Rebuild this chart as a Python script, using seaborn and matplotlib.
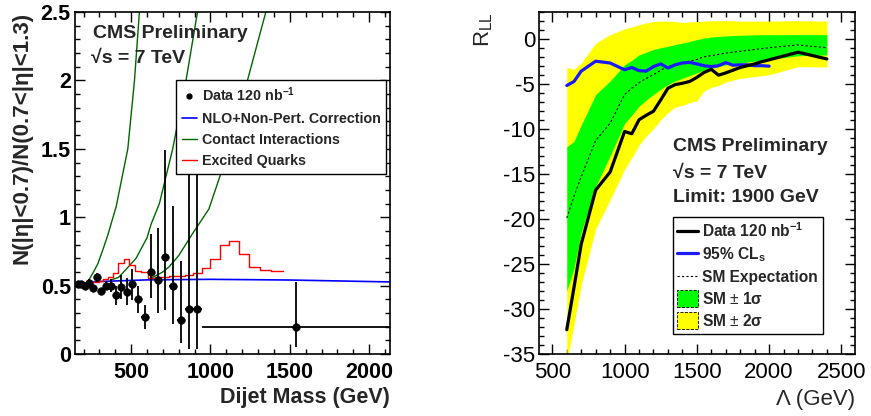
import numpy as np
import seaborn as sns
import matplotlib
matplotlib.use("Agg")
import matplotlib.pyplot as plt
from matplotlib.lines import Line2D
from matplotlib.patches import Patch
from matplotlib.ticker import MultipleLocator

# ---- left panel: dijet centrality ratio ----
bin_edges = [156, 176, 197, 220, 244, 270, 296, 325, 354, 386, 419, 453, 489,
             526, 565, 606, 649, 693, 740, 788, 838, 890, 944, 2132]
ratio = [0.51, 0.51, 0.50, 0.52, 0.48, 0.56, 0.46, 0.50, 0.50, 0.43, 0.49, 0.455,
         0.51, 0.40, 0.27, 0.60, 0.54, 0.71, 0.50, 0.25, 0.33, 0.33, 0.20]
err_up = [0.015, 0.015, 0.015, 0.03, 0.02, 0.03, 0.025, 0.035, 0.045, 0.07, 0.085, 0.10,
          0.115, 0.10, 0.09, 0.28, 0.38, 0.78, 0.58, 0.43, 1.3, 1.5, 0.33]
err_dn = [0.015, 0.015, 0.015, 0.03, 0.02, 0.03, 0.025, 0.035, 0.045, 0.07, 0.085, 0.10,
          0.115, 0.10, 0.09, 0.19, 0.24, 0.39, 0.28, 0.17, 0.29, 0.29, 0.15]

nlo_mass = [156, 300, 600, 1000, 1500, 2132]
nlo_ratio = [0.513, 0.53, 0.542, 0.546, 0.541, 0.527]

ci1_mass = [200, 227, 258, 290, 321, 353, 406, 479, 521, 552]
ci1_ratio = [0.51, 0.53, 0.59, 0.66, 0.76, 0.87, 1.08, 1.5, 2.0, 2.5]
ci2_mass = [370, 420, 469, 531, 600, 626, 678, 762, 846, 918]
ci2_ratio = [0.54, 0.56, 0.62, 0.70, 0.85, 0.95, 1.1, 1.5, 2.0, 2.5]
ci3_mass = [620, 700, 741, 800, 887, 990, 1118, 1233, 1349]
ci3_ratio = [0.55, 0.60, 0.64, 0.72, 0.88, 1.06, 1.5, 2.0, 2.5]

exq_edges = [244, 270, 296, 325, 354, 386, 419, 453, 489, 526, 565, 606, 649, 693,
             740, 788, 838, 890, 944, 1000, 1058, 1118, 1181, 1246, 1313, 1383, 1455]
exq_ratio = [0.525, 0.530, 0.535, 0.548, 0.560, 0.595, 0.663, 0.692, 0.651, 0.609,
             0.597, 0.558, 0.560, 0.563, 0.567, 0.572, 0.580, 0.592, 0.626, 0.692,
             0.797, 0.826, 0.729, 0.634, 0.612, 0.604]

# ---- right panel: R_LL vs Lambda ----
lam = [600, 650, 700, 800, 900, 1000, 1050, 1100, 1150, 1200, 1250, 1300, 1350, 1400,
       1450, 1500, 1550, 1600, 1650, 1700, 1750, 1800, 1850, 1900, 1950, 2000, 2200, 2400]
data_rll = [-32.3, -27.6, -22.8, -16.8, -14.8, -10.3, -10.55, -9.0, -8.5, -8.05, -6.8,
            -5.5, -5.1, -4.95, -4.75, -4.3, -3.75, -3.4, -4.05, -3.8, -3.5, -3.2, -3.0,
            -2.8, -2.55, -2.35, -1.5, -2.25]
cls_rll = [-5.2, -4.75, -3.6, -2.5, -2.7, -3.45, -3.2, -3.55, -3.6, -3.1, -2.8, -3.26,
           -2.9, -2.7, -2.63, -2.8, -3.0, -3.1, -3.0, -2.65, -2.95, -2.9, -2.9, -3.0,
           -3.0, -3.05]
sm_exp = [-19.9, -17.5, -15.3, -11.3, -9.4, -6.2, -5.5, -4.9, -4.4, -4.0, -3.5, -3.1,
          -2.9, -2.7, -2.5, -2.3, -2.0, -1.9, -1.75, -1.6, -1.5, -1.4, -1.3, -1.2, -1.1,
          -1.0, -0.7, -1.0]
green_hi = [-12.0, -11.4, -9.6, -6.2, -4.7, -2.9, -2.4, -1.8, -1.5, -1.2, -1.0, -0.85,
            -0.65, -0.5, -0.3, -0.1, 0.05, 0.19, 0.25, 0.3, 0.35, 0.37, 0.4, 0.42, 0.44,
            0.44, 0.45, 0.45]
green_lo = [-28.0, -25.5, -21.5, -16.4, -13.0, -9.4, -8.5, -7.5, -6.8, -6.2, -5.6, -5.1,
            -4.7, -4.4, -4.1, -3.8, -3.5, -3.3, -3.1, -2.9, -2.8, -2.7, -2.6, -2.5, -2.4,
            -2.3, -1.9, -1.8]
yellow_hi = [-3.2, -3.4, -2.7, -0.5, 0.44, 1.1, 1.3, 1.55, 1.75, 1.9, 1.95, 1.95, 1.9,
             1.8, 1.85, 1.9, 1.95, 2.0, 2.0, 2.0, 2.0, 1.95, 1.95, 1.95, 1.95, 1.95, 2.0, 1.95]
yellow_lo = [-36.0, -31.7, -27.3, -21.1, -17.9, -14.5, -13.2, -11.8, -10.8, -10.0, -9.0,
             -8.2, -7.6, -7.4, -7.1, -6.9, -5.8, -5.4, -5.2, -4.8, -4.6, -4.4, -4.3, -4.2,
             -4.1, -4.0, -3.1, -3.15]

sns.set_theme(style="ticks")
plt.rcParams['font.family'] = ['Liberation Sans', 'DejaVu Sans']
plt.rcParams['mathtext.fontset'] = 'custom'
plt.rcParams['mathtext.rm'] = 'Liberation Sans'
plt.rcParams['mathtext.bf'] = 'Liberation Sans:bold'
plt.rcParams['mathtext.it'] = 'Liberation Sans:italic'

fig = plt.figure(figsize=(8.71, 4.16), dpi=100)
ax1 = fig.add_axes([0.0861, 0.149, 0.3617, 0.822])
ax2 = fig.add_axes([0.6192, 0.149, 0.3625, 0.823])

for ax in (ax1, ax2):
    ax.tick_params(which='both', direction='in', top=True, right=True, width=1, colors='black')
    ax.tick_params(which='major', length=7)
    ax.tick_params(which='minor', length=3.5)
    for s in ax.spines.values():
        s.set_linewidth(1.2)
        s.set_color('black')

# ---------- left ----------
edges = np.array(bin_edges)
centers = (edges[:-1] + edges[1:]) / 2
half = (edges[1:] - edges[:-1]) / 2

sns.lineplot(x=nlo_mass, y=nlo_ratio, ax=ax1, color='#0000ff', lw=1.2, sort=False, estimator=None)
for m, r in [(ci1_mass, ci1_ratio), (ci2_mass, ci2_ratio), (ci3_mass, ci3_ratio)]:
    sns.lineplot(x=m, y=r, ax=ax1, color='#006600', lw=1.0, sort=False, estimator=None)
sns.lineplot(x=exq_edges, y=exq_ratio + [exq_ratio[-1]], ax=ax1, color='#ff0000', lw=1.0,
             drawstyle='steps-post', sort=False, estimator=None)
ax1.errorbar(centers, ratio, yerr=[err_dn, err_up], xerr=half, fmt='none',
             ecolor='black', elinewidth=1.3, capsize=0)
sns.scatterplot(x=centers, y=ratio, ax=ax1, color='black', s=30, edgecolor='black', zorder=5)

ax1.set_xlim(146, 2132)
ax1.set_ylim(0, 2.5)
ax1.set_xticks([500, 1000, 1500, 2000], ['500', '1000', '1500', '2000'],
               fontsize=15.5, fontweight='bold')
ax1.set_yticks([0, 0.5, 1, 1.5, 2, 2.5], ['0', '0.5', '1', '1.5', '2', '2.5'],
               fontsize=15.5, fontweight='bold')
ax1.xaxis.set_minor_locator(MultipleLocator(100))
ax1.yaxis.set_minor_locator(MultipleLocator(0.1))
ax1.tick_params(axis='x', pad=6)
ax1.tick_params(axis='y', pad=3)
ax1.set_xlabel('Dijet Mass (GeV)', fontsize=15.5, fontweight='bold', loc='right')
ax1.set_ylabel('N(|η|<0.7)/N(0.7<|η|<1.3)', fontsize=16, fontweight='bold', loc='top')
ax1.xaxis.set_label_coords(1.0, -0.095)
ax1.yaxis.set_label_coords(-0.135, 1.0)

ax1.text(0.057, 0.936, 'CMS Preliminary', transform=ax1.transAxes, fontsize=14,
         fontweight='bold', va='center')
ax1.text(0.05, 0.865, '√s = 7 TeV', transform=ax1.transAxes, fontsize=14,
         fontweight='bold', va='center')

h1 = [Line2D([], [], ls='none', marker='o', color='black', ms=3.5),
      Line2D([], [], color='#0000ff', lw=1.2),
      Line2D([], [], color='#006600', lw=1.0),
      Line2D([], [], color='#ff0000', lw=1.0)]
l1 = ['Data 120 nb$^{\\mathbf{-1}}$', 'NLO+Non-Pert. Correction', 'Contact Interactions',
      'Excited Quarks']
leg1 = ax1.legend(h1, l1, loc='upper left', bbox_to_anchor=(0.32, 0.801), frameon=True,
                  fancybox=False, framealpha=1, edgecolor='black', borderpad=0.4,
                  handlelength=1.1, handletextpad=0.3, labelspacing=0.5,
                  prop={'size': 10.3, 'weight': 'bold'}, borderaxespad=0)
leg1.get_frame().set_linewidth(1.0)
leg1.set_zorder(10)

# ---------- right ----------
ax2.fill_between(lam, yellow_lo, yellow_hi, color='#ffff00', lw=0)
ax2.fill_between(lam, green_lo, green_hi, color='#00ff00', lw=0)
sns.lineplot(x=lam, y=sm_exp, ax=ax2, color='black', lw=0.8, sort=False, estimator=None,
             dashes=False, linestyle=(0, (2, 2)))
sns.lineplot(x=lam[:len(cls_rll)], y=cls_rll, ax=ax2, color='#1a1aff', lw=2.3, sort=False,
             estimator=None)
sns.lineplot(x=lam, y=data_rll, ax=ax2, color='black', lw=2.3, sort=False, estimator=None)

ax2.set_xlim(410, 2595)
ax2.set_ylim(-35, 3)
ax2.set_xticks([500, 1000, 1500, 2000, 2500], ['500', '1000', '1500', '2000', '2500'],
               fontsize=16)
ax2.set_yticks([-35, -30, -25, -20, -15, -10, -5, 0],
               ['-35', '-30', '-25', '-20', '-15', '-10', '-5', '0'], fontsize=16)
ax2.xaxis.set_minor_locator(MultipleLocator(100))
ax2.yaxis.set_minor_locator(MultipleLocator(1))
ax2.tick_params(axis='x', pad=6)
ax2.tick_params(axis='y', pad=3)
ax2.set_xlabel('Λ (GeV)', fontsize=16, loc='right')
ax2.set_ylabel('R$_{\\mathrm{LL}}$', fontsize=16, loc='top')
ax2.xaxis.set_label_coords(1.0, -0.102)
ax2.yaxis.set_label_coords(-0.14, 1.0)

ax2.text(0.4226, 0.605, 'CMS Preliminary', transform=ax2.transAxes, fontsize=14,
         fontweight='bold', va='center')
ax2.text(0.4226, 0.528, '√s = 7 TeV', transform=ax2.transAxes, fontsize=14,
         fontweight='bold', va='center')
ax2.text(0.4226, 0.458, 'Limit: 1900 GeV', transform=ax2.transAxes, fontsize=14,
         fontweight='bold', va='center')

h2 = [Line2D([], [], color='black', lw=2.3),
      Line2D([], [], color='#1a1aff', lw=2.3),
      Line2D([], [], color='black', lw=0.8, linestyle=(0, (2, 2))),
      Patch(facecolor='#00ff00', edgecolor='black', linestyle='--', lw=0.6),
      Patch(facecolor='#ffff00', edgecolor='black', linestyle='--', lw=0.6)]
l2 = ['Data 120 nb$^{\\mathbf{-1}}$', '95% CL$_{\\mathbf{s}}$', 'SM Expectation',
      'SM $\\pm$ 1σ', 'SM $\\pm$ 2σ']
leg2 = ax2.legend(h2, l2, loc='upper left', bbox_to_anchor=(0.4226, 0.400), frameon=True,
                  fancybox=False, framealpha=1, edgecolor='black', borderpad=0.3,
                  handlelength=1.3, handleheight=1.3, handletextpad=0.3, labelspacing=0.3,
                  prop={'size': 11.2, 'weight': 'bold'}, borderaxespad=0)
leg2.get_frame().set_linewidth(1.0)

fig.savefig('out.png', dpi=100)
